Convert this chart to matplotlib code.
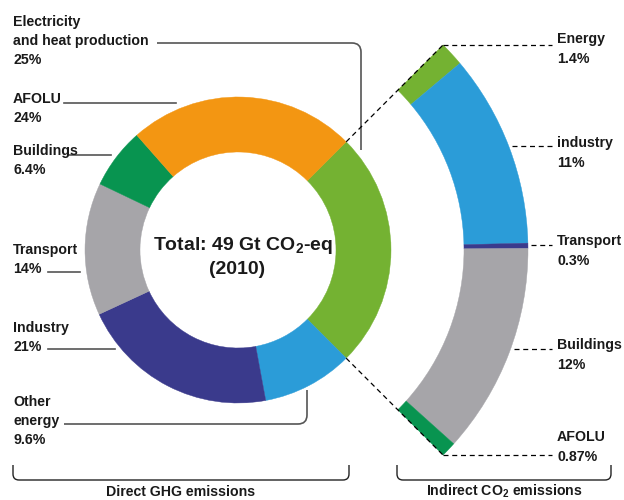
import numpy as np
import matplotlib
matplotlib.use('Agg')
import matplotlib.pyplot as plt
from matplotlib.path import Path
from matplotlib.patches import PathPatch
from matplotlib import font_manager

# direct GHG emissions by sector (%), clockwise from the top right
direct_labels = ['Electricity\nand heat production', 'Other\nenergy', 'Industry',
                 'Transport', 'Buildings', 'AFOLU']
direct_values = [25, 9.6, 21, 14, 6.4, 24]
direct_colors = ['#74b232', '#2b9cd8', '#3a3a8c', '#a6a5a9', '#089450', '#f39612']

# indirect CO2 emissions from electricity and heat (%)
indirect_labels = ['Energy', 'industry', 'Transport', 'Buildings', 'AFOLU']
indirect_values = [1.4, 11, 0.3, 12, 0.87]
indirect_colors = ['#74b232', '#2b9cd8', '#3a3a8c', '#a6a5a9', '#089450']

W, H = 624, 500
names = {f.name for f in font_manager.fontManager.ttflist}
FONT = 'Liberation Sans Narrow' if 'Liberation Sans Narrow' in names else 'Liberation Sans'
FS = 11 if FONT.endswith('Narrow') else 10.2
plt.rcParams['font.family'] = [FONT, 'DejaVu Sans']
plt.rcParams['mathtext.fontset'] = 'custom'
plt.rcParams['mathtext.rm'] = FONT
plt.rcParams['mathtext.bf'] = FONT + ':bold'


def Y(py):
    # pixel row (from top) -> data y
    return H - py


def rounded_line(ax, pts, r=8, **kw):
    pts = [np.array([x, Y(y)], float) for x, y in pts]
    verts, codes = [pts[0]], [Path.MOVETO]
    for i in range(1, len(pts) - 1):
        a, b, c = pts[i - 1], pts[i], pts[i + 1]
        d1 = (a - b) / np.linalg.norm(a - b)
        d2 = (c - b) / np.linalg.norm(c - b)
        verts += [b + d1 * r, b, b + d2 * r]
        codes += [Path.LINETO, Path.CURVE3, Path.CURVE3]
    verts.append(pts[-1])
    codes.append(Path.LINETO)
    ax.add_patch(PathPatch(Path(verts, codes), fill=False, capstyle='butt', **kw))


fig = plt.figure(figsize=(W / 100, H / 100), dpi=100)
ax = fig.add_axes([0, 0, 1, 1])

cx, cy = 238, Y(250)
r_out, r_in = 153, 98
R_out, R_in = 290, 226
start = 45

wed, _ = ax.pie(direct_values, colors=direct_colors, startangle=start, counterclock=False,
                radius=r_out, center=(cx, cy), normalize=True,
                wedgeprops=dict(width=r_out - r_in, linewidth=0.3))
for w in wed:
    w.set_edgecolor(w.get_facecolor())

share = direct_values[0] / sum(direct_values)
fracs = [v / sum(indirect_values) * share for v in indirect_values]
wed2, _ = ax.pie(fracs, colors=indirect_colors, startangle=start, counterclock=False,
                 radius=R_out, center=(cx, cy), normalize=False,
                 wedgeprops=dict(width=R_out - R_in, linewidth=0.3))
for w in wed2:
    w.set_edgecolor(w.get_facecolor())

ax.set_xlim(0, W)
ax.set_ylim(0, H)
ax.set_aspect('auto')
ax.axis('off')

# dashed rays joining the electricity slice to the outer arc
end = start - share * 360
for ang in (start, end):
    t = np.deg2rad(ang)
    ax.plot([cx + r_out * np.cos(t), cx + R_out * np.cos(t)],
            [cy + r_out * np.sin(t), cy + R_out * np.sin(t)],
            color='black', lw=0.9, ls=(0, (4, 3)))

tkw = dict(fontsize=FS, fontweight='bold', color='#1a1a1a', va='baseline')
LS = 19

# left labels: first baseline, leader line
left_pos = [26, 406, 332, 254, 155, 103]
for lab, val, yb in zip(direct_labels, direct_values, left_pos):
    lines = lab.split('\n') + [f'{val:g}%']
    for k, s in enumerate(lines):
        ax.text(13, Y(yb + k * LS), s, ha='left', **tkw)

lc = dict(color='#555555', lw=1.2)
rounded_line(ax, [(157, 43), (361, 43), (361, 150)], r=9, **lc)
rounded_line(ax, [(64, 424), (307, 424), (307, 390)], r=9, **lc)
ax.plot([48, 115], [Y(349), Y(349)], **lc)
ax.plot([48, 80], [Y(272), Y(272)], **lc)
ax.plot([68, 111], [Y(155), Y(155)], **lc)
ax.plot([64, 176], [Y(103), Y(103)], **lc)

# right labels with dashed leaders
right_pos = [43, 147, 245, 349, 441]
for lab, val, yb in zip(indirect_labels, indirect_values, right_pos):
    ax.text(557, Y(yb), lab, ha='left', **tkw)
    ax.text(557, Y(yb + LS + 1), f'{val:g}%', ha='left', **tkw)

dkw = dict(color='black', lw=0.9, ls=(0, (4, 3)))
tt = np.deg2rad(start)
ax.plot([cx + R_out * np.cos(tt), 552], [cy + R_out * np.sin(tt)] * 2, **dkw)
tb = np.deg2rad(end)
ax.plot([cx + R_out * np.cos(tb), 552], [cy + R_out * np.sin(tb)] * 2, **dkw)
for yl in (146, 245, 349):
    dy = Y(yl) - cy
    x0 = cx + np.sqrt(R_out ** 2 - dy ** 2) + 3
    ax.plot([x0, 552], [Y(yl)] * 2, **dkw)

# centre total
ax.text(243, Y(250), r'Total: 49 Gt CO$_\mathbf{2}$-eq', ha='center', va='baseline',
        fontsize=14, fontweight='bold', color='#1a1a1a')
ax.text(237, Y(274), '(2010)', ha='center', va='baseline',
        fontsize=14, fontweight='bold', color='#1a1a1a')

# bottom brackets
bk = dict(color='#222222', lw=1.0)
rounded_line(ax, [(13, 465), (13, 480), (349, 480), (349, 465)], r=6, **bk)
rounded_line(ax, [(397, 465), (397, 480), (611, 480), (611, 465)], r=6, **bk)
ax.text(181, Y(496), 'Direct GHG emissions', ha='center', **tkw)
ax.text(504, Y(496), r'Indirect CO$_\mathbf{2}$ emissions', ha='center', **tkw)

fig.savefig('out.png', dpi=100)
